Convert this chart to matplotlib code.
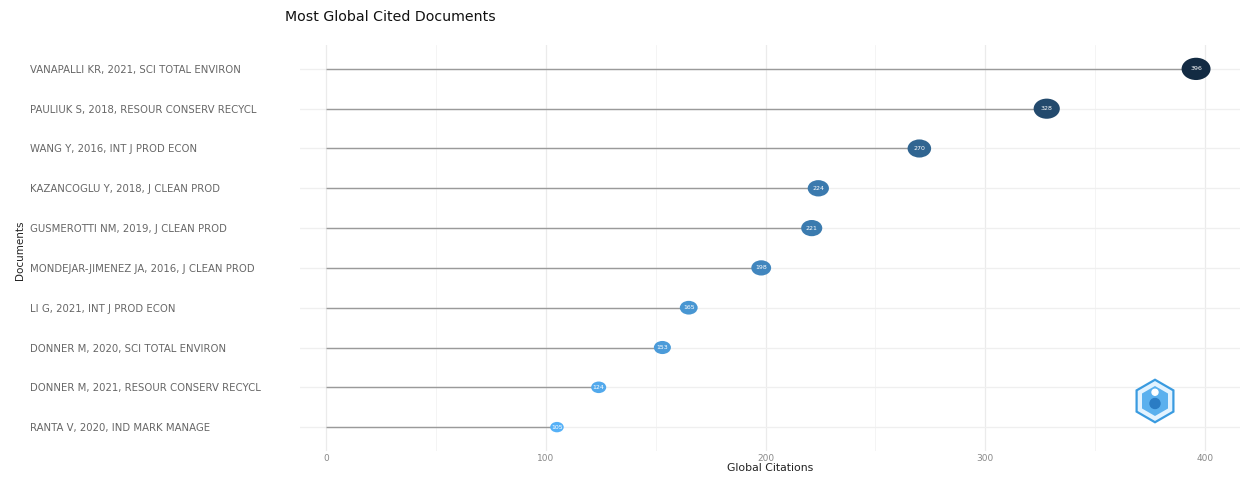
import matplotlib

matplotlib.use("Agg")
import matplotlib.pyplot as plt
import numpy as np
from matplotlib.colors import LinearSegmentedColormap, Normalize
from matplotlib.patches import RegularPolygon, Circle
from matplotlib.path import Path


documents = [
    "VANAPALLI KR, 2021, SCI TOTAL ENVIRON",
    "PAULIUK S, 2018, RESOUR CONSERV RECYCL",
    "WANG Y, 2016, INT J PROD ECON",
    "KAZANCOGLU Y, 2018, J CLEAN PROD",
    "GUSMEROTTI NM, 2019, J CLEAN PROD",
    "MONDEJAR-JIMENEZ JA, 2016, J CLEAN PROD",
    "LI G, 2021, INT J PROD ECON",
    "DONNER M, 2020, SCI TOTAL ENVIRON",
    "DONNER M, 2021, RESOUR CONSERV RECYCL",
    "RANTA V, 2020, IND MARK MANAGE",
]
citations = [396, 328, 270, 224, 221, 198, 165, 153, 124, 105]
x_ticks = [0, 100, 200, 300, 400]

W, H, DPI = 1251, 479, 100
fig = plt.figure(figsize=(W / DPI, H / DPI), dpi=DPI)
ax = fig.add_axes([300 / W, 1 - 451 / H, (1240 - 300) / W, (451 - 45) / H])

cmap = LinearSegmentedColormap.from_list("gg", ["#56B1F7", "#132B43"])
norm = Normalize(min(citations), max(citations))

y = np.arange(len(documents))[::-1]
vals = np.array(citations)

# grid
for v in [50, 150, 250, 350]:
    ax.axvline(v, color="#f3f3f3", lw=0.6, zorder=0)
for v in x_ticks:
    ax.axvline(v, color="#ebebeb", lw=0.9, zorder=0)
for yy in y:
    ax.axhline(yy, color="#efefef", lw=0.9, zorder=0)

ax.hlines(y, 0, vals, color="#9a9a9a", lw=1.0, zorder=1)

# slightly wide ellipse markers like the reference
circ = Path.unit_circle()
ell = Path(circ.vertices * np.array([1.3, 1.0]), circ.codes)
sizes = 95 + (vals - vals.min()) / (vals.max() - vals.min()) * 340
ax.scatter(vals, y, s=sizes, c=vals, cmap=cmap, norm=norm, marker=ell,
           edgecolors="none", zorder=3)
for v, yy in zip(vals, y):
    ax.text(v, yy, str(v), color="white", fontsize=4.5, ha="center",
            va="center", zorder=4)

ax.set_xlim(-12, 416)
ax.set_ylim(-0.6, len(documents) - 0.4)
ax.set_xticks(x_ticks)
ax.set_xticklabels([str(t) for t in x_ticks], fontsize=6.5, color="#888888")
ax.set_yticks(y)
ax.set_yticklabels(documents, fontsize=7.3, color="#666666")
for lab in ax.get_yticklabels():
    lab.set_ha("left")
ax.tick_params(axis="y", length=0, pad=(300 - 30) * 0.72)
ax.tick_params(axis="x", length=0, pad=2)
for s in ax.spines.values():
    s.set_visible(False)

ax.set_xlabel("Global Citations", fontsize=7.8, color="#222222", labelpad=0)
fig.text(20 / W, 1 - 250 / H, "Documents", rotation=90, fontsize=7.5,
         color="#222222", ha="center", va="center")
fig.text(285 / W, 1 - 17 / H, "Most Global Cited Documents", fontsize=10.2,
         color="#111111", ha="left", va="center")

# small watermark logo, lower right
lax = fig.add_axes([1130 / W, 1 - 426 / H, 50 / W, 50 / H])
lax.set_xlim(-1, 1)
lax.set_ylim(-1, 1)
lax.axis("off")
lax.add_patch(RegularPolygon((0, 0), 6, radius=0.85, orientation=0,
                             facecolor="#e3f3ff", edgecolor="#3a9be0", lw=1.6))
lax.add_patch(RegularPolygon((0, 0), 6, radius=0.6, orientation=0,
                             facecolor="#5ab0ee", edgecolor="none"))
lax.add_patch(Circle((0, 0.35), 0.12, color="white"))
lax.add_patch(Circle((0, -0.1), 0.2, color="#2a7cc4"))

fig.savefig("out.png", dpi=DPI)
plt.close(fig)
